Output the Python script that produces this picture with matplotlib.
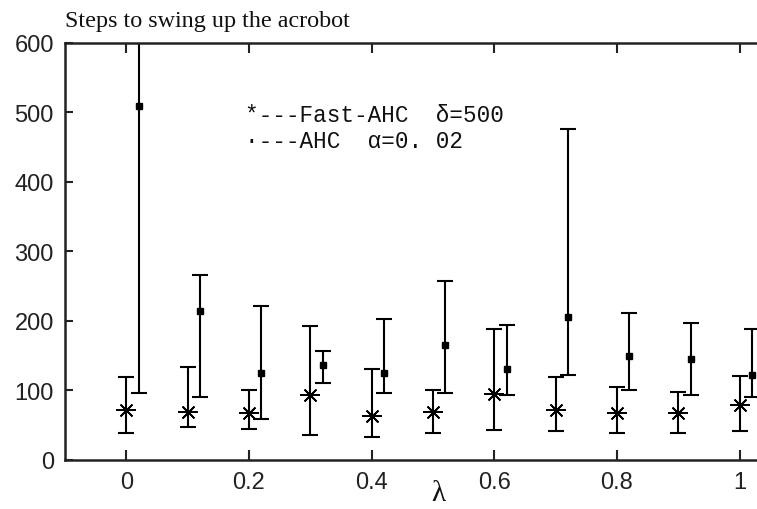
import matplotlib
matplotlib.use("Agg")
import matplotlib.pyplot as plt
import numpy as np

# ---- data ----
lam = [0.0, 0.1, 0.2, 0.3, 0.4, 0.5, 0.6, 0.7, 0.8, 0.9, 1.0]

fast_mean = [72, 69, 67, 93, 63, 69, 95, 72, 67, 67, 79]
fast_low  = [38, 47, 44, 35, 32, 38, 43, 41, 38, 38, 41]
fast_high = [119, 133, 101, 193, 130, 101, 188, 119, 104, 98, 121]

ahc_mean = [510, 214, 125, 136, 125, 165, 131, 205, 150, 145, 122]
ahc_low  = [96, 90, 58, 110, 96, 96, 93, 122, 101, 93, 90]
ahc_high = [950, 266, 222, 156, 202, 257, 194, 476, 211, 197, 188]

xtick_vals = [0, 0.2, 0.4, 0.6, 0.8, 1.0]
xtick_labels = ["0", "0.2", "0.4", "0.6", "0.8", "1"]
ytick_vals = [0, 100, 200, 300, 400, 500, 600]

title_text = "Steps to swing up the acrobot"
legend_fast = "*---Fast-AHC  δ=500"
legend_ahc = "·---AHC  α=0. 02"
xlabel_text = "λ"

# ---- figure ----
W, H = 757, 510
fig = plt.figure(figsize=(W / 100, H / 100), dpi=100)
fig.patch.set_facecolor("white")

left_px, bottom_px, top_px = 65, 460.7, 44
px_per_unit_x = 613.3  # pixels per 1.0 of lambda
xmin, xmax = -0.1, 1.1
ax_w_px = (xmax - xmin) * px_per_unit_x
ax = fig.add_axes([left_px / W, (H - bottom_px) / H, ax_w_px / W, (bottom_px - top_px) / H])

lam_a = np.array(lam)
fm = np.array(fast_mean); fl = np.array(fast_low); fh = np.array(fast_high)
am = np.array(ahc_mean); al = np.array(ahc_low); ah = np.array(ahc_high)
offset = 0.02

ax.errorbar(lam_a, fm, yerr=[fm - fl, fh - fm], fmt="none", ecolor="black",
            elinewidth=1.5, capsize=5.5, capthick=1.5)
ax.plot(lam_a, fm, linestyle="none", marker=(4, 2, 0), markersize=14,
        markeredgecolor="black", markeredgewidth=1.3)
ax.plot(lam_a, fm, linestyle="none", marker=(4, 2, 45), markersize=12,
        markeredgecolor="black", markeredgewidth=1.3)

ax.errorbar(lam_a + offset, am, yerr=[am - al, ah - am], fmt="s", color="black",
            markersize=5, elinewidth=1.5, capsize=5.5, capthick=1.5)

ax.set_xlim(xmin, xmax)
ax.set_ylim(0, 600)
ax.set_xticks(xtick_vals)
ax.set_xticklabels(xtick_labels)
ax.set_yticks(ytick_vals)

for s in ["left", "bottom", "top"]:
    ax.spines[s].set_linewidth(1.8)
    ax.spines[s].set_color("#222222")
ax.spines["right"].set_visible(False)

ax.tick_params(axis="both", direction="in", length=6, width=1.5,
               labelsize=17, colors="#222222", pad=8)
ax.tick_params(axis="x", top=True, bottom=True, length=7)
for lab in ax.get_xticklabels() + ax.get_yticklabels():
    lab.set_family("Liberation Sans")

fig.text(438 / W, 1 - 494 / H, xlabel_text, family="Liberation Serif",
         fontsize=21, ha="center", va="center", color="#111111")

fig.text(65 / W, 1 - 27 / H, title_text, family="Liberation Serif",
         fontsize=17.4, ha="left", va="baseline", color="#111111")

fig.text(245 / W, 1 - 115 / H, legend_fast, family="Liberation Mono",
         fontsize=16.3, ha="left", va="center", color="#111111")
fig.text(245 / W, 1 - 142 / H, legend_ahc, family="Liberation Mono",
         fontsize=16.3, ha="left", va="center", color="#111111")

fig.savefig("out.png", dpi=100, facecolor="white")
